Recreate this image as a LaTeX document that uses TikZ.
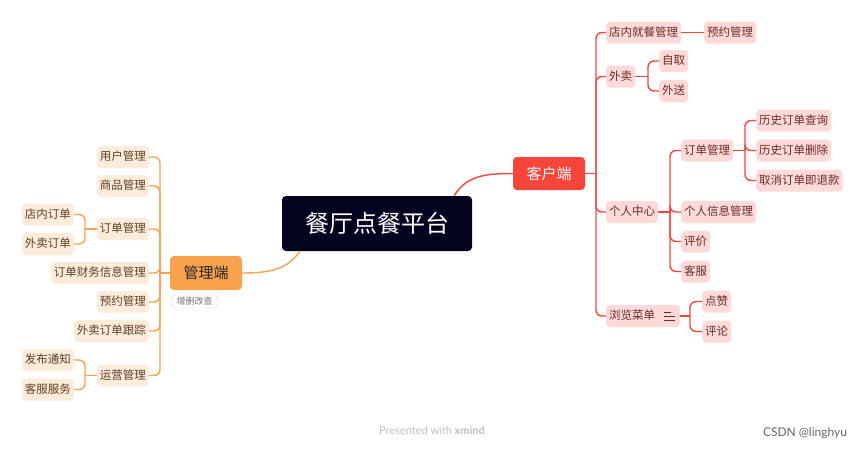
\documentclass[tikz,border=0pt]{standalone}
\usepackage{fontspec}
\setmainfont{Noto Sans CJK SC}
\newfontfamily\footfont{Lato}
\usetikzlibrary{positioning}
\definecolor{rootNavy}{HTML}{03031F}
\definecolor{clientRed}{HTML}{F7453A}
\definecolor{adminOrange}{HTML}{F8A24E}
\definecolor{clientPink}{HTML}{FDDAD7}
\definecolor{adminPeach}{HTML}{FDEBDB}
\definecolor{clientText}{HTML}{6B2A27}
\definecolor{adminText}{HTML}{5E3F22}

\tikzset{
  leaf/.style={rounded corners=4pt,inner xsep=3pt,inner ysep=0pt,minimum height=22pt,
    text height=0.85em,text depth=0.15em,font=\fontsize{11.5}{12}\selectfont},
  clientleaf/.style={leaf,fill=clientPink,text=clientText},
  adminleaf/.style={leaf,fill=adminPeach,text=adminText},
  redline/.style={draw=clientRed,line width=1.4pt,rounded corners=6pt},
  orangeline/.style={draw=adminOrange,line width=1.4pt,rounded corners=6pt}
}

\begin{document}
\begin{tikzpicture}[x=1pt,y=-1pt]
  \useasboundingbox[fill=white] (0,0) rectangle (864,450);

  \coordinate (lbus) at (160,0);
  \coordinate (lsub) at (85,0);
  \coordinate (rbus) at (596,0);
  \coordinate (rtake) at (648,0);
  \coordinate (rmine) at (670,0);
  \coordinate (rorder) at (745,0);
  \coordinate (rmenu) at (690,0);

  \node[fill=rootNavy,text=white,rounded corners=4pt,minimum width=190pt,minimum height=55pt,
    font=\fontsize{24}{26}\selectfont] (root) at (377,223.5) {餐厅点餐平台};
  \node[fill=clientRed,text=white,rounded corners=4pt,minimum width=72pt,minimum height=33pt,
    font=\fontsize{15}{16}\selectfont] (client) at (549,173.5) {客户端};
  \node[fill=adminOrange,text=black!85,rounded corners=4pt,minimum width=72pt,minimum height=34pt,
    font=\fontsize{15}{16}\selectfont] (admin) at (206,273) {管理端};
  \node[draw=black!15,fill=white,text=black!55,rounded corners=5pt,minimum width=47pt,minimum height=13pt,
    inner sep=0pt,font=\fontsize{9}{10}\selectfont] (tag) at (194.5,301.5) {增删改查};

  \draw[redline] ([xshift=-18pt]root.north east) .. controls +(12,-20) and +(-28,0) .. (client.west);
  \draw[orangeline] ([xshift=18pt]root.south west) .. controls +(-12,18) and +(28,0) .. (admin.east);

  % admin side
  \foreach \name/\y/\txt in {user/157/用户管理,goods/186/商品管理,order/229/订单管理,
      finance/273/订单财务信息管理,booking/302/预约管理,track/331/外卖订单跟踪,ops/375.5/运营管理}
    \node[adminleaf,anchor=east] (\name) at (149,\y) {\txt};
  \foreach \name/\y/\txt in {shop/214.5/店内订单,take/244/外卖订单,notice/360/发布通知,service/389.5/客服服务}
    \node[adminleaf,anchor=east] (\name) at (74,\y) {\txt};

  \draw[orangeline] (admin.west) -- (admin.west -| lbus);
  \foreach \name in {user,goods,order,finance,booking,track,ops}
    \draw[orangeline] (admin.west -| lbus) |- (\name.east);
  \draw[orangeline] (order.west) -- (order.west -| lsub);
  \foreach \name in {shop,take}
    \draw[orangeline] (order.west -| lsub) |- (\name.east);
  \draw[orangeline] (ops.west) -- (ops.west -| lsub);
  \foreach \name in {notice,service}
    \draw[orangeline] (ops.west -| lsub) |- (\name.east);

  % client side
  \foreach \name/\y/\txt in {dine/32.5/店内就餐管理,takeout/76.5/外卖,mine/212/个人中心}
    \node[clientleaf,anchor=west] (\name) at (606,\y) {\txt};
  \node[clientleaf,anchor=west] (menu) at (606,316) {浏览菜单\kern22pt};
  \node[clientleaf,anchor=west] (reserve) at (704,32.5) {预约管理};
  \node[clientleaf,anchor=west] (pickup) at (659,61) {自取};
  \node[clientleaf,anchor=west] (deliver) at (659,91) {外送};
  \foreach \name/\y/\txt in {myorder/150.5/订单管理,profile/212/个人信息管理,review/241.5/评价,support/271.5/客服}
    \node[clientleaf,anchor=west] (\name) at (681,\y) {\txt};
  \foreach \name/\y/\txt in {query/120.5/历史订单查询,remove/150.5/历史订单删除,refund/180.5/取消订单即退款}
    \node[clientleaf,anchor=west] (\name) at (756,\y) {\txt};
  \node[clientleaf,anchor=west] (like) at (702,301.5) {点赞};
  \node[clientleaf,anchor=west] (comment) at (702,331.5) {评论};

  \draw[clientText,line width=1pt] ([xshift=-16pt,yshift=-4pt]menu.east) -- ++(11,0)
    ([xshift=-16pt]menu.east) -- ++(11,0) ([xshift=-16pt,yshift=4pt]menu.east) -- ++(7,0);

  \draw[redline] (client.east) -- (client.east -| rbus);
  \foreach \name in {dine,takeout,mine,menu}
    \draw[redline] (client.east -| rbus) |- (\name.west);
  \draw[redline] (dine.east) -- (reserve.west);
  \draw[redline] (takeout.east) -- (takeout.east -| rtake);
  \foreach \name in {pickup,deliver}
    \draw[redline] (takeout.east -| rtake) |- (\name.west);
  \draw[redline] (mine.east) -- (mine.east -| rmine);
  \foreach \name in {myorder,profile,review,support}
    \draw[redline] (mine.east -| rmine) |- (\name.west);
  \draw[redline] (myorder.east) -- (myorder.east -| rorder);
  \foreach \name in {query,remove,refund}
    \draw[redline] (myorder.east -| rorder) |- (\name.west);
  \draw[redline] (menu.east) -- (menu.east -| rmenu);
  \foreach \name in {like,comment}
    \draw[redline] (menu.east -| rmenu) |- (\name.west);

  \node[text=black!25,font=\footfont\fontsize{11}{12}\selectfont] (brand) at (432,430) {Presented with \textbf{xmind}};
  \node[text=black!60,font=\footfont\fontsize{12}{13}\selectfont] (credit) at (805,433) {CSDN @linghyu};
\end{tikzpicture}
\end{document}
